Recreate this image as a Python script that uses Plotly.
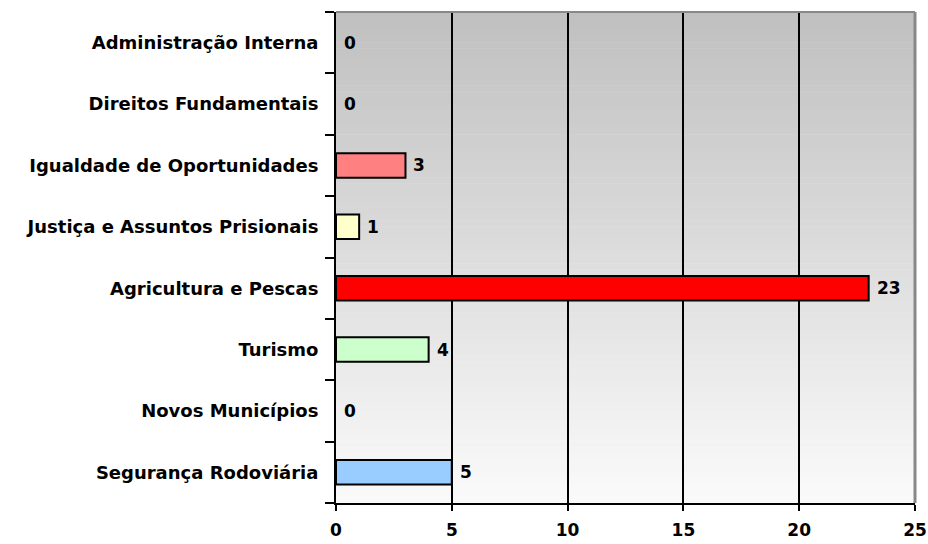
import plotly.graph_objects as go

categories = ["Administração Interna", "Direitos Fundamentais", "Igualdade de Oportunidades",
              "Justiça e Assuntos Prisionais", "Agricultura e Pescas", "Turismo",
              "Novos Municípios", "Segurança Rodoviária"]
values = [0, 0, 3, 1, 23, 4, 0, 5]
bar_colors = ["#c0c0c0", "#c0c0c0", "#ff8080", "#ffffcc", "#ff0000", "#ccffcc", "#c0c0c0", "#99ccff"]
x_ticks = [0, 5, 10, 15, 20, 25]

FONT = "DejaVu Sans, Verdana, sans-serif"

fig = go.Figure()
fig.add_trace(go.Bar(
    y=categories, x=values, orientation="h",
    marker=dict(color=bar_colors,
                line=dict(color="black", width=[2 if v else 0 for v in values])),
    width=0.4, hoverinfo="x+y",
))

annotations = []
for c, v in zip(categories, values):
    annotations.append(dict(x=v, y=c, xref="x", yref="y", text=f"<b>{v}</b>",
                            showarrow=False, xanchor="left", xshift=6,
                            font=dict(family=FONT, size=17, color="black")))

# vertical gradient background
shapes = []
n = 80
top = (192, 192, 192)
bot = (250, 250, 250)
for i in range(n):
    t = i / (n - 1)
    col = tuple(round(top[k] + (bot[k] - top[k]) * t) for k in range(3))
    shapes.append(dict(type="rect", xref="x domain", yref="y domain",
                       x0=0, x1=1, y0=1 - (i + 1) / n, y1=1 - i / n + 0.001,
                       fillcolor="rgb(%d,%d,%d)" % col, line=dict(width=0), layer="below"))
# grey top and right border
shapes.append(dict(type="line", xref="x domain", yref="y domain", x0=0, x1=1, y0=1, y1=1,
                   line=dict(color="#888888", width=2), layer="above"))
shapes.append(dict(type="line", xref="x domain", yref="y domain", x0=1, x1=1, y0=0, y1=1,
                   line=dict(color="#888888", width=3), layer="above"))

fig.update_layout(
    width=928, height=544,
    margin=dict(l=336, r=13, t=12, b=41),
    paper_bgcolor="white", plot_bgcolor="white",
    showlegend=False,
    bargap=0.6,
    font=dict(family=FONT, size=17, color="black"),
    shapes=shapes, annotations=annotations,
    xaxis=dict(range=[0, 25], tickvals=x_ticks, ticktext=[f"<b>{t}</b>" for t in x_ticks],
               automargin=False,
               showgrid=True, gridcolor="black", gridwidth=2, zeroline=False,
               showline=True, linecolor="black", linewidth=2,
               ticks="outside", ticklen=6, tickwidth=2, tickcolor="black",
               ticklabelstandoff=5,
               tickfont=dict(family=FONT, size=17)),
    yaxis=dict(autorange="reversed", categoryorder="array", categoryarray=categories,
               tickvals=categories, ticktext=[f"<b>{c}</b>" for c in categories],
               automargin=False,
               showgrid=False, zeroline=False, showline=True, linecolor="black", linewidth=2,
               ticks="outside", tickson="boundaries", ticklen=9, tickwidth=2, tickcolor="black",
               ticklabelstandoff=12,
               tickfont=dict(family=FONT, size=18)),
)

fig.write_html("out.html", config={"displayModeBar": False},
               post_script="document.body.style.margin='0';document.body.style.overflow='hidden';")
